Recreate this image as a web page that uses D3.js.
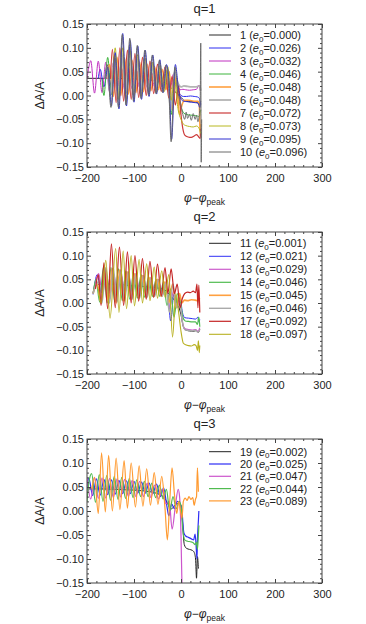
<!DOCTYPE html>
<html><head><meta charset="utf-8">
<script src="https://cdn.jsdelivr.net/npm/d3@7"></script>
<style>
html,body{margin:0;padding:0;background:#fff;}
svg{display:block;font-family:"Liberation Sans",Arial,sans-serif;}
</style></head>
<body>
<svg id="c" width="366" height="624"></svg>
<script>
// ---------- DATA ----------
const xTicks = [-200, -100, 0, 100, 200, 300];
const yTicks = [-0.15, -0.10, -0.05, 0.00, 0.05, 0.10, 0.15];
const titles = ["q=1", "q=2", "q=3"];

// q=1
const s1 = [[-200,0.036],[-170,0.036],[-140,0.036],[-110,0.035],[-80,0.034],[-60,0.032],[-45,0.03],[-35,0.027],[-25,0.02],[-15,0.01],[-8,0.004],[0,-0.004],[6,-0.01],[12,-0.012],[20,-0.013],[28,-0.013],[35,-0.015],[39,-0.018],[42,-0.012]];
const s2 = [[-176,0.036],[-172,0.055],[-164,0.018],[-156,0.056],[-148,0.018],[-140,0.055],[-132,0.02],[-124,0.054],[-116,0.02],[-108,0.052],[-100,0.021],[-92,0.05],[-84,0.022],[-76,0.048],[-68,0.022],[-60,0.046],[-52,0.022],[-44,0.042],[-36,0.02],[-28,0.035],[-20,0.0],[-12,0.03],[-5,0.008],[0,0.0],[5,-0.002],[12,-0.002],[20,-0.001],[28,-0.002],[35,-0.003],[39,-0.006],[42,-0.02]];
const s3 = [[-200,0.035],[-196,0.06],[-192,0.073],[-184,0.005],[-176,0.072],[-168,0.006],[-160,0.07],[-152,0.008],[-144,0.068],[-136,0.01],[-128,0.064],[-120,0.012],[-112,0.06],[-104,0.014],[-96,0.056],[-88,0.016],[-80,0.052],[-72,0.017],[-64,0.048],[-56,0.018],[-48,0.044],[-40,0.018],[-32,0.04],[-24,0.01],[-16,0.045],[-8,0.025],[-2,0.012],[4,0.013],[10,0.012],[18,0.011],[26,0.012],[33,0.013],[38,0.022],[41,0.01]];
const s4 = [[-168,0.035],[-164,0.0],[-156,0.08],[-148,0.002],[-140,0.078],[-132,0.004],[-124,0.075],[-116,0.006],[-108,0.072],[-100,0.008],[-92,0.068],[-84,0.01],[-76,0.064],[-68,0.012],[-60,0.058],[-52,0.014],[-44,0.052],[-36,0.015],[-28,0.045],[-21,-0.04],[-13,0.05],[-6,-0.005],[0,-0.025],[6,-0.037],[12,-0.04],[20,-0.041],[28,-0.042],[35,-0.043],[39,-0.045],[42,-0.03]];
const s5 = [[-158,0.035],[-152,0.065],[-144,-0.002],[-136,0.08],[-128,0.0],[-120,0.078],[-112,0.003],[-104,0.074],[-96,0.006],[-88,0.07],[-80,0.008],[-72,0.066],[-64,0.01],[-56,0.06],[-48,0.012],[-40,0.055],[-32,0.012],[-25,0.05],[-18,-0.03],[-10,0.04],[-3,-0.04],[2,-0.02],[8,-0.01],[15,-0.01],[22,-0.011],[30,-0.012],[36,-0.012],[39,-0.02],[41,-0.085],[42,-0.06]];
const s6 = [[-162,0.035],[-158,0.06],[-150,0.0],[-142,0.08],[-134,-0.005],[-126,0.09],[-118,0.0],[-110,0.105],[-102,0.002],[-94,0.08],[-86,0.006],[-78,0.075],[-70,0.01],[-62,0.068],[-54,0.012],[-46,0.06],[-38,0.014],[-30,0.052],[-22,-0.03],[-14,0.05],[-6,0.025],[0,0.018],[6,0.02],[14,0.019],[22,0.018],[30,0.018],[36,0.019],[40,0.02],[42,0.01]];
const s7 = [[-150,0.035],[-146,0.097],[-138,-0.015],[-130,0.1],[-122,-0.012],[-114,0.095],[-106,-0.008],[-98,0.088],[-90,-0.004],[-82,0.08],[-74,0.0],[-66,0.072],[-58,0.004],[-50,0.066],[-42,0.008],[-34,0.06],[-26,-0.005],[-19,0.04],[-12,-0.02],[-5,0.02],[0,-0.04],[4,-0.07],[8,-0.083],[15,-0.087],[22,-0.088],[28,-0.085],[33,-0.082],[37,-0.086],[41,-0.09],[42,-0.07]];
const s8 = [[-145,0.035],[-140,0.1],[-132,-0.01],[-124,0.1],[-116,-0.008],[-108,0.094],[-100,-0.004],[-92,0.086],[-84,0.0],[-76,0.078],[-68,0.004],[-60,0.07],[-52,0.006],[-44,0.064],[-36,0.008],[-28,0.06],[-21,-0.01],[-14,0.035],[-6,-0.03],[0,-0.05],[5,-0.06],[10,-0.063],[18,-0.065],[26,-0.066],[33,-0.064],[38,-0.068],[42,-0.08]];
const s9 = [[-160,0.035],[-156,0.06],[-148,-0.022],[-140,0.09],[-132,-0.028],[-124,0.13],[-116,-0.022],[-108,0.115],[-100,-0.014],[-92,0.104],[-84,-0.008],[-76,0.095],[-68,-0.002],[-60,0.085],[-52,0.003],[-45,0.075],[-38,0.006],[-31,0.065],[-25,0.02],[-20,-0.092],[-12,0.065],[-5,0.01],[0,-0.008],[6,-0.012],[14,-0.013],[22,-0.014],[30,-0.015],[36,-0.016],[40,-0.025],[42,-0.015]];
const s10 = [[-162,0.035],[-157,0.065],[-149,-0.025],[-141,0.085],[-133,-0.025],[-125,0.128],[-117,-0.02],[-109,0.12],[-101,-0.012],[-93,0.105],[-85,-0.006],[-77,0.095],[-69,0.0],[-61,0.085],[-53,0.004],[-46,0.074],[-39,0.006],[-32,0.064],[-26,0.015],[-21,-0.097],[-13,0.06],[-6,0.005],[0,-0.02],[4,-0.04],[8,-0.05],[11,-0.035],[14,-0.048],[18,-0.04],[22,-0.052],[26,-0.038],[30,-0.05],[33,-0.042],[36,-0.055],[39,-0.04],[41,0.0],[42,0.11],[43,-0.14],[44,-0.05]];

// q=2
const s11 = [[-187,0.022],[-182,0.036],[-170,0.04],[-150,0.04],[-120,0.038],[-90,0.036],[-60,0.033],[-40,0.03],[-28,0.022],[-18,0.01],[-8,0.0],[0,-0.025],[5,-0.05],[10,-0.057],[18,-0.059],[26,-0.06],[33,-0.058],[37,-0.062],[40,-0.055]];
const s12 = [[-187,0.018],[-178,0.06],[-170,0.022],[-162,0.058],[-154,0.024],[-146,0.056],[-138,0.024],[-130,0.054],[-122,0.025],[-114,0.052],[-106,0.025],[-98,0.05],[-90,0.025],[-82,0.048],[-74,0.025],[-66,0.046],[-58,0.024],[-50,0.043],[-42,0.022],[-34,0.038],[-27,0.01],[-22,-0.038],[-15,0.02],[-8,0.0],[-2,0.012],[3,-0.02],[8,-0.031],[16,-0.032],[24,-0.033],[31,-0.034],[36,-0.03],[38,-0.04],[40,-0.035]];
const s13 = [[-187,0.02],[-175,0.062],[-167,0.018],[-159,0.062],[-151,0.02],[-143,0.06],[-135,0.02],[-127,0.058],[-119,0.021],[-111,0.056],[-103,0.022],[-95,0.054],[-87,0.022],[-79,0.05],[-71,0.022],[-63,0.047],[-55,0.02],[-47,0.043],[-39,0.018],[-31,0.038],[-24,-0.01],[-16,0.025],[-9,-0.005],[-2,0.005],[3,-0.04],[8,-0.054],[16,-0.056],[24,-0.057],[31,-0.056],[36,-0.06],[40,-0.052]];
const s14 = [[-187,0.02],[-181,0.05],[-173,0.002],[-165,0.076],[-157,0.0],[-149,0.075],[-141,0.002],[-133,0.072],[-125,0.005],[-117,0.068],[-109,0.008],[-101,0.064],[-93,0.01],[-85,0.06],[-77,0.012],[-69,0.056],[-61,0.014],[-53,0.05],[-45,0.014],[-37,0.045],[-30,-0.005],[-22,0.03],[-15,-0.03],[-7,0.02],[-1,0.0],[4,-0.03],[9,-0.038],[16,-0.039],[24,-0.04],[31,-0.04],[35,-0.045],[38,-0.03],[40,-0.05]];
const s15 = [[-187,0.02],[-178,0.04],[-170,0.0],[-162,0.074],[-154,-0.002],[-146,0.073],[-138,0.0],[-130,0.07],[-122,0.004],[-114,0.066],[-106,0.007],[-98,0.062],[-90,0.01],[-82,0.058],[-74,0.012],[-66,0.054],[-58,0.014],[-50,0.05],[-42,0.014],[-34,0.045],[-26,0.0],[-18,0.04],[-10,-0.01],[-3,0.02],[2,0.0],[7,0.006],[14,0.005],[22,0.007],[30,0.006],[36,0.005],[40,0.01]];
const s16 = [[-187,0.02],[-176,0.045],[-168,0.0],[-160,0.075],[-152,0.0],[-144,0.074],[-136,0.002],[-128,0.07],[-120,0.005],[-112,0.066],[-104,0.008],[-96,0.062],[-88,0.01],[-80,0.058],[-72,0.012],[-64,0.054],[-56,0.014],[-48,0.05],[-40,0.014],[-32,0.044],[-25,-0.02],[-17,0.04],[-9,-0.01],[-2,0.0],[3,-0.04],[8,-0.056],[16,-0.058],[24,-0.059],[31,-0.058],[36,-0.062],[40,-0.056]];
const s17 = [[-182,0.03],[-176,0.06],[-170,-0.005],[-164,0.085],[-156,-0.012],[-148,0.125],[-140,-0.01],[-131,0.118],[-122,-0.005],[-114,0.108],[-106,0.0],[-98,0.1],[-90,0.004],[-82,0.094],[-74,0.008],[-66,0.088],[-58,0.012],[-50,0.082],[-42,0.015],[-34,0.075],[-28,0.02],[-21,0.072],[-14,0.02],[-8,0.04],[-2,-0.01],[3,0.01],[8,0.02],[14,0.023],[20,0.022],[26,0.025],[31,0.022],[34,0.04],[36,-0.01],[38,0.038],[40,-0.02]];
const s18 = [[-176,0.03],[-170,0.0],[-160,0.09],[-151,-0.032],[-139,0.115],[-132,-0.02],[-123,0.11],[-116,-0.012],[-106,0.1],[-99,-0.006],[-89,0.092],[-82,0.0],[-73,0.083],[-66,0.005],[-57,0.076],[-50,0.01],[-41,0.068],[-34,0.012],[-26,0.06],[-18,-0.072],[-11,0.02],[-5,-0.02],[0,-0.06],[5,-0.085],[10,-0.088],[16,-0.09],[22,-0.091],[28,-0.088],[32,-0.09],[35,-0.1],[37,-0.08],[39,-0.105],[40,-0.09]];

// q=3
const s19 = [[-200,0.046],[-170,0.046],[-140,0.045],[-110,0.044],[-80,0.042],[-60,0.039],[-45,0.034],[-35,0.027],[-28,0.015],[-22,0.004],[-16,0.008],[-10,0.015],[-4,0.016],[0,0.012],[3,-0.02],[7,-0.07],[12,-0.078],[18,-0.08],[24,-0.082],[28,-0.086],[31,-0.1],[33,-0.14],[35,-0.095],[37,-0.12]];
const s20 = [[-200,0.05],[-196,0.068],[-188,0.032],[-180,0.067],[-172,0.033],[-164,0.066],[-156,0.034],[-148,0.065],[-140,0.035],[-132,0.064],[-124,0.036],[-116,0.063],[-108,0.036],[-100,0.062],[-92,0.037],[-84,0.06],[-76,0.037],[-68,0.058],[-60,0.036],[-52,0.056],[-44,0.03],[-37,0.048],[-30,0.01],[-26,-0.01],[-20,0.015],[-14,0.005],[-8,0.02],[-2,0.015],[2,0.0],[6,-0.045],[10,-0.052],[16,-0.055],[22,-0.058],[27,-0.06],[30,-0.048],[32,-0.07],[34,-0.1],[35,-0.06],[37,-0.02],[38,0.0]];
const s21 = [[-200,0.07],[-192,0.025],[-184,0.07],[-176,0.026],[-168,0.069],[-160,0.027],[-152,0.068],[-144,0.028],[-136,0.067],[-128,0.029],[-120,0.066],[-112,0.03],[-104,0.064],[-96,0.03],[-88,0.062],[-80,0.03],[-72,0.058],[-64,0.028],[-56,0.054],[-48,0.025],[-40,0.045],[-32,0.015],[-25,0.02],[-19,-0.038],[-12,0.01],[-6,0.045],[-3,0.03],[0,-0.05],[2,-0.15],[3,-0.17]];
const s22 = [[-200,0.02],[-196,0.06],[-190,0.078],[-182,0.018],[-174,0.076],[-166,0.02],[-158,0.074],[-150,0.022],[-142,0.072],[-134,0.024],[-126,0.07],[-118,0.026],[-110,0.068],[-102,0.028],[-94,0.065],[-86,0.03],[-78,0.062],[-70,0.03],[-62,0.058],[-54,0.028],[-46,0.054],[-38,0.025],[-31,0.045],[-24,0.0],[-17,0.03],[-10,0.005],[-4,0.02],[0,0.01],[4,-0.04],[8,-0.06],[14,-0.063],[20,-0.064],[26,-0.066],[30,-0.07],[33,-0.065],[35,-0.08],[37,-0.05],[38,-0.03]];
const s23 = [[-190,0.045],[-184,0.07],[-176,-0.005],[-169,0.121],[-161,-0.002],[-154,0.116],[-146,0.0],[-138,0.11],[-130,0.003],[-121,0.105],[-114,0.006],[-106,0.1],[-97,0.008],[-89,0.094],[-81,0.01],[-73,0.088],[-65,0.012],[-57,0.08],[-49,0.014],[-41,0.072],[-34,0.005],[-29,-0.06],[-24,0.02],[-19,0.09],[-14,0.035],[-9,-0.005],[-5,0.02],[-1,0.0],[2,-0.015],[5,0.02],[9,0.027],[13,0.022],[17,0.03],[21,0.024],[25,0.028],[28,0.012],[31,0.025],[33,0.03],[35,0.09],[37,0.04]];

const q1Series = [s1,s2,s3,s4,s5,s6,s7,s8,s9,s10];
const q2Series = [s11,s12,s13,s14,s15,s16,s17,s18];
const q3Series = [s19,s20,s21,s22,s23];
const q1Ids = ["1","2","3","4","5","6","7","8","9","10"];
const q2Ids = ["11","12","13","14","15","16","17","18"];
const q3Ids = ["19","20","21","22","23"];
const q1E = ["0.000","0.026","0.032","0.046","0.048","0.048","0.072","0.073","0.095","0.096"];
const q2E = ["0.001","0.021","0.029","0.046","0.045","0.046","0.092","0.097"];
const q3E = ["0.002","0.025","0.047","0.044","0.089"];

// ---------- STYLE ----------
const q1Col = ["#2a2a2a","#2c2cf0","#c030c0","#3cb43c","#ffa040","#b4b4b4","#cc3a3a","#b8b820","#2f2fd0","#6a6a6a"];
const q1W   = [1,1,1,1,1.6,1.8,1.2,1,1,1];
const q2Col = ["#222222","#3030f5","#cc5ccc","#50bb50","#ffa040","#aaaaaa","#c42424","#b8b020"];
const q2W   = [1,1,1.2,1.2,1.6,1.4,1.2,1.1];
const q3Col = ["#222222","#2e2ef5","#cc55cc","#50bb50","#ff9a30"];
const q3W   = [1,1.2,1.2,1.2,1.2];

const panels = [
  {top:24, bottom:167, title:titles[0], series:q1Series, ids:q1Ids, e:q1E, col:q1Col, w:q1W, legY:35, legStep:13},
  {top:232, bottom:374, title:titles[1], series:q2Series, ids:q2Ids, e:q2E, col:q2Col, w:q2W, legY:243.3, legStep:13},
  {top:439, bottom:583, title:titles[2], series:q3Series, ids:q3Ids, e:q3E, col:q3Col, w:q3W, legY:451.7, legStep:12.3}
];
const L = 87, R = 322;
const svg = d3.select("#c");
const frameCol = "#444";

panels.forEach((p, pi) => {
  const x = d3.scaleLinear().domain([-200, 300]).range([L, R]);
  const y = d3.scaleLinear().domain([-0.15, 0.15]).range([p.bottom, p.top]);
  const g = svg.append("g");
  const cid = "clip" + pi;
  svg.append("clipPath").attr("id", cid).append("rect")
    .attr("x", L).attr("y", p.top).attr("width", R - L).attr("height", p.bottom - p.top);

  // title
  g.append("text").attr("x", (L + R) / 2).attr("y", p.top - 11)
    .attr("text-anchor", "middle").attr("font-size", 13).attr("fill", "#222").text(p.title);

  // lines
  const line = d3.line().x(d => x(d[0])).y(d => y(d[1])).curve(d3.curveMonotoneX);
  const lg = g.append("g").attr("clip-path", `url(#${cid})`);
  p.series.forEach((s, i) => {
    lg.append("path").attr("d", line(s)).attr("fill", "none")
      .attr("stroke", p.col[i]).attr("stroke-width", p.w[i]).attr("stroke-linejoin", "round");
  });

  // frame
  g.append("rect").attr("x", L).attr("y", p.top).attr("width", R - L).attr("height", p.bottom - p.top)
    .attr("fill", "none").attr("stroke", frameCol).attr("stroke-width", 1);

  const xMinor = d3.range(-200, 301, 20).filter(v => v % 100 !== 0);
  const yMinor = d3.range(-15, 16, 1).map(v => v / 100).filter(v => Math.round(v * 100) % 5 !== 0);
  const fx = d3.format("d"), fy = d3.format(".2f");

  const styleAxis = sel => {
    sel.select(".domain").remove();
    sel.selectAll(".tick line").attr("stroke", frameCol);
    sel.selectAll("text").attr("font-family", "Liberation Sans, Arial, sans-serif").attr("font-size", 11).attr("fill", "#222");
  };
  // bottom
  g.append("g").attr("transform", `translate(0,${p.bottom})`)
    .call(d3.axisBottom(x).tickValues(xTicks).tickSize(-4).tickPadding(7).tickFormat(fx)).call(styleAxis);
  g.append("g").attr("transform", `translate(0,${p.bottom})`)
    .call(d3.axisBottom(x).tickValues(xMinor).tickSize(-2).tickFormat("")).call(styleAxis);
  // top
  g.append("g").attr("transform", `translate(0,${p.top})`)
    .call(d3.axisTop(x).tickValues(xTicks).tickSize(-4).tickFormat("")).call(styleAxis);
  g.append("g").attr("transform", `translate(0,${p.top})`)
    .call(d3.axisTop(x).tickValues(xMinor).tickSize(-2).tickFormat("")).call(styleAxis);
  // left
  g.append("g").attr("transform", `translate(${L},0)`)
    .call(d3.axisLeft(y).tickValues(yTicks).tickSize(-4).tickPadding(3).tickFormat(fy)).call(styleAxis);
  g.append("g").attr("transform", `translate(${L},0)`)
    .call(d3.axisLeft(y).tickValues(yMinor).tickSize(-2).tickFormat("")).call(styleAxis);
  // right
  g.append("g").attr("transform", `translate(${R},0)`)
    .call(d3.axisRight(y).tickValues(yTicks).tickSize(-4).tickFormat("")).call(styleAxis);
  g.append("g").attr("transform", `translate(${R},0)`)
    .call(d3.axisRight(y).tickValues(yMinor).tickSize(-2).tickFormat("")).call(styleAxis);

  // y label
  const cy = (p.top + p.bottom) / 2;
  g.append("text").attr("transform", `translate(44,${cy}) rotate(-90)`)
    .attr("text-anchor", "middle").attr("font-size", 12).attr("fill", "#222").text("ΔA/A");

  // x label
  const xl = g.append("text").attr("x", (L + R) / 2).attr("y", p.bottom + 35)
    .attr("text-anchor", "middle").attr("font-size", 12).attr("fill", "#222");
  xl.append("tspan").attr("font-style", "italic").text("φ");
  xl.append("tspan").text("−");
  xl.append("tspan").attr("font-style", "italic").text("φ");
  xl.append("tspan").attr("font-size", 8.5).attr("dy", 3).text("peak");

  // legend
  p.ids.forEach((id, i) => {
    const ly = p.legY + i * p.legStep;
    g.append("line").attr("x1", 209).attr("x2", 231).attr("y1", ly).attr("y2", ly)
      .attr("stroke", p.col[i]).attr("stroke-width", p.w[i]);
    const t = g.append("text").attr("x", 240).attr("y", ly + 4).attr("font-size", 11).attr("fill", "#222");
    t.append("tspan").text(id + " (");
    t.append("tspan").attr("font-style", "italic").text("e");
    t.append("tspan").attr("font-size", 8).attr("dy", 2.5).text("0");
    t.append("tspan").attr("dy", -2.5).text("=" + p.e[i] + ")");
  });
});
</script>
</body></html>
